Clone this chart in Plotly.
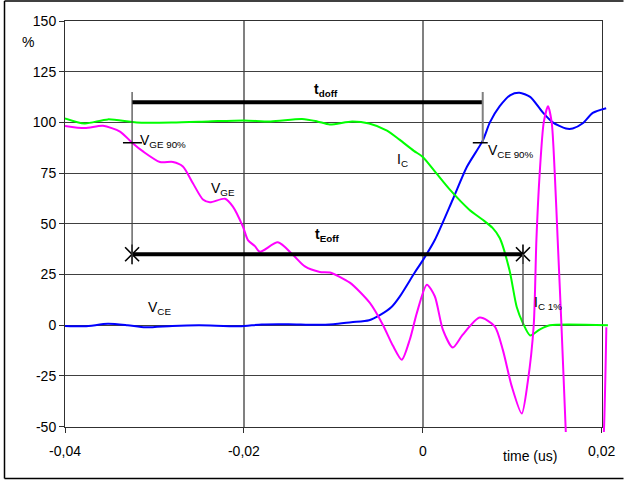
import plotly.graph_objects as go

# ---- data (time in us, values in %) ----
t_ic = [-0.04, -0.0378, -0.0352, -0.032, -0.028, -0.024, -0.020, -0.017, -0.0135,
        -0.0118, -0.0104, -0.0079, -0.006, -0.004, -0.0026, -0.001, 0.0, 0.0015,
        0.003, 0.0052, 0.0067, 0.0078, 0.0086, 0.0097, 0.0105, 0.0112, 0.0120,
        0.0131, 0.0142, 0.0207]
ic = [102, 99.5, 101.5, 100, 100, 100.5, 101, 100.5, 101.7,
      100.5, 99, 100.5, 99.5, 96, 91.5, 86, 83, 75,
      67, 57, 52, 48, 43, 27, 9, 1, -5,
      -2, 0, 0]

t_vce = [-0.04, -0.0378, -0.0352, -0.033, -0.031, -0.028, -0.025, -0.0205, -0.018,
         -0.015, -0.012, -0.010, -0.008, -0.006, -0.0048, -0.0035, -0.0026, -0.0009,
         0.0, 0.00134, 0.00335, 0.00492, 0.0067, 0.0075, 0.0086, 0.0098, 0.0108,
         0.0120, 0.0134, 0.01453, 0.0160, 0.01676, 0.01788, 0.019, 0.0205]
vce = [-0.3, -0.5, 0.7, 0, -1, -0.3, 0, -0.5, 0.4,
       0.5, 0.2, 0.5, 1.5, 2.5, 5, 9, 14, 26,
       32, 42, 62, 78, 91, 100, 108, 113.5, 114.6,
       112.6, 105, 100, 97, 97, 99.6, 104.7, 107]

t_vge = [-0.04, -0.03777, -0.03575, -0.03385, -0.0325, -0.03128, -0.02939, -0.02793,
         -0.02682, -0.0257, -0.02458, -0.0238, -0.02212, -0.02123, -0.02011, -0.01955,
         -0.01877, -0.01821, -0.0162, -0.01453, -0.01318, -0.01151, -0.01039, -0.00816,
         -0.00592, -0.00447, -0.00335, -0.00235, -0.00145, -0.00067, 0.00045, 0.00134,
         0.00223, 0.00335, 0.00447, 0.00637, 0.00804, 0.00894, 0.00994, 0.01106,
         0.01173, 0.0124, 0.0127, 0.01307, 0.01352, 0.0140, 0.01441, 0.01475,
         0.01508, 0.0155, 0.01598, 0.01642, 0.01754, 0.01866, 0.01955, 0.02025, 0.02052]
vge = [98.3, 97.2, 98.3, 95.5, 90, 85.7, 80.5, 80.5,
       78.3, 70, 62, 60.6, 62.4, 58.5, 48.6, 42,
       39, 36.2, 40.9, 34.8, 29, 26.3, 26, 21,
       11, 0.3, -10, -17, -7, 6, 20, 14.3,
       -2, -11, -4.6, 3.8, -0.5, -12, -30, -43.5,
       -28, 0, 42, 75, 100, 108, 100, 75,
       42, 0, -52, -100, -160, -160, -110, -52, -1]

x_ticks = [-0.04, -0.02, 0.0, 0.02]
x_ticktext = ["-0,04", "-0,02", "0", "0,02"]
y_ticks = [-50, -25, 0, 25, 50, 75, 100, 125, 150]
y_ticktext = [str(v) for v in y_ticks]

# switching instants and levels
t_start = -0.0325      # V_GE 90 %
t_vce90 = 0.0067       # V_CE 90 %
t_ic1 = 0.0112         # I_C 1 %
lvl_doff = 110
lvl_eoff = 35
lvl_90 = 90

# ---- geometry (pixels) ----
W, H = 624, 480
PX_L, PX_R, PX_RE = 65, 601.7, 608      # plot left, plot right, trace clip right
PX_T, PX_B, PX_BE = 21, 426.7, 432      # plot top, plot bottom, trace clip bottom

x_dom = (PX_R - PX_L) / (PX_RE - PX_L)
y_dom = (PX_BE - PX_B) / (PX_BE - PX_T)
x2_max = -0.04 + 0.06 * (PX_RE - PX_L) / (PX_R - PX_L)
y2_min = 150 - 200 * (PX_BE - PX_T) / (PX_B - PX_T)


def px_to_paper_x(px):
    return (px - PX_L) / (PX_RE - PX_L)


def px_to_paper_y(py):
    return (PX_BE - py) / (PX_BE - PX_T)


FONT = "Arial, Liberation Sans, sans-serif"

fig = go.Figure()

line_kw = dict(shape="spline", smoothing=0.7, width=2)
fig.add_trace(go.Scatter(x=t_vce, y=vce, mode="lines", xaxis="x2", yaxis="y2",
                         line=dict(color="#0000FF", **line_kw)))
fig.add_trace(go.Scatter(x=t_ic, y=ic, mode="lines", xaxis="x2", yaxis="y2",
                         line=dict(color="#00FF00", **line_kw)))
fig.add_trace(go.Scatter(x=t_vge, y=vge, mode="lines", xaxis="x2", yaxis="y2",
                         line=dict(color="#FF00FF", **line_kw)))

# t_Eoff end markers
for sym in ["x-thin-open", "line-ns-open"]:
    fig.add_trace(go.Scatter(x=[t_start, t_ic1], y=[lvl_eoff, lvl_eoff], mode="markers",
                             cliponaxis=False,
                             marker=dict(symbol=sym, size=14, color="black",
                                         line=dict(color="black", width=1.6))))

shapes = [
    # t_doff bar
    dict(type="line", x0=t_start, x1=t_vce90, y0=lvl_doff, y1=lvl_doff,
         line=dict(color="black", width=4)),
    # t_Eoff bar
    dict(type="line", x0=t_start, x1=t_ic1, y0=lvl_eoff, y1=lvl_eoff,
         line=dict(color="black", width=4)),
    # vertical markers
    dict(type="line", x0=t_start, x1=t_start, y0=115, y1=30,
         line=dict(color="#404040", width=1.2)),
    dict(type="line", x0=t_vce90, x1=t_vce90, y0=115, y1=lvl_90,
         line=dict(color="#808080", width=2)),
    dict(type="line", x0=t_ic1, x1=t_ic1, y0=lvl_eoff, y1=0,
         line=dict(color="#606060", width=1.5)),
    # 90 % ticks
    dict(type="line", x0=-0.03352, x1=-0.0314, y0=lvl_90, y1=lvl_90,
         line=dict(color="black", width=1.5)),
    dict(type="line", x0=0.00559, x1=0.00726, y0=lvl_90, y1=lvl_90,
         line=dict(color="black", width=1.5)),
]

# outer frame (top, left, bottom edges)
fx0, fx1 = px_to_paper_x(4.5), px_to_paper_x(623.5)
fy0, fy1 = px_to_paper_y(478.5), px_to_paper_y(1)
for x0, y0, x1, y1 in [(fx0, fy1, fx1, fy1), (fx0, fy0, fx0, fy1), (fx0, fy0, fx1, fy0)]:
    shapes.append(dict(type="line", xref="paper", yref="paper",
                       x0=x0, y0=y0, x1=x1, y1=y1,
                       line=dict(color="black", width=1.5)))


def label(x, y, text, xanchor="left", size=14):
    return dict(x=x, y=y, xref="x", yref="y", text=text, showarrow=False,
                xanchor=xanchor, yanchor="middle",
                font=dict(family=FONT, size=size, color="black"))


annotations = [
    dict(x=px_to_paper_x(28), y=px_to_paper_y(42), xref="paper", yref="paper",
         text="%", showarrow=False, xanchor="center", yanchor="middle",
         font=dict(family=FONT, size=14, color="black")),
    dict(x=px_to_paper_x(529.5), y=px_to_paper_y(456), xref="paper", yref="paper",
         text="time (us)", showarrow=False, xanchor="center", yanchor="middle",
         font=dict(family=FONT, size=14, color="black")),
    label(-0.0108, 116, "<b>t<sub>doff</sub></b>", xanchor="center"),
    label(-0.0107, 44.5, "<b>t<sub>Eoff</sub></b>", xanchor="center"),
    label(-0.0318, 91, "V<sub>GE 90%</sub>"),
    label(-0.0239, 67, "V<sub>GE</sub>"),
    label(-0.0031, 81.5, "I<sub>C</sub>"),
    label(0.0071, 86, "V<sub>CE 90%</sub>"),
    label(-0.0309, 8.5, "V<sub>CE</sub>"),
    label(0.0122, 11, "I<sub>C 1%</sub>"),
]

fig.update_layout(
    width=W, height=H,
    margin=dict(l=PX_L, r=W - PX_RE, t=PX_T, b=H - PX_BE, pad=0, autoexpand=False),
    paper_bgcolor="white", plot_bgcolor="rgba(0,0,0,0)",
    showlegend=False,
    font=dict(family=FONT, size=14, color="black"),
    xaxis=dict(domain=[0, x_dom], range=[-0.04, 0.02], anchor="y",
               tickvals=x_ticks, ticktext=x_ticktext,
               showgrid=True, gridcolor="#808080", gridwidth=1.5,
               zeroline=False, showline=True, mirror=True,
               linecolor="#303030", linewidth=1,
               ticks="outside", ticklen=5, tickcolor="#303030",
               ticklabelstandoff=6,
               tickfont=dict(family=FONT, size=14, color="black")),
    yaxis=dict(domain=[y_dom, 1], range=[-50, 150], anchor="x",
               tickvals=y_ticks, ticktext=y_ticktext,
               showgrid=True, gridcolor="#404040", gridwidth=1,
               zeroline=False, showline=True, mirror=True,
               linecolor="#303030", linewidth=1,
               ticks="outside", ticklen=5, tickcolor="#303030",
               tickfont=dict(family=FONT, size=14, color="black")),
    xaxis2=dict(domain=[0, 1], range=[-0.04, x2_max], anchor="y2", visible=False),
    yaxis2=dict(domain=[0, 1], range=[y2_min, 150], anchor="x2", visible=False),
    shapes=shapes,
    annotations=annotations,
)

fig.write_html("out.html")
